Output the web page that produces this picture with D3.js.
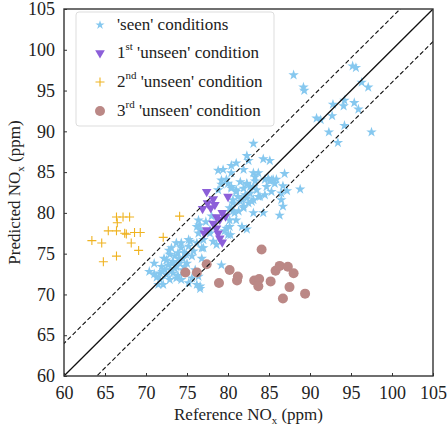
<!DOCTYPE html>
<html><head><meta charset="utf-8">
<script src="https://cdn.jsdelivr.net/npm/d3@7"></script>
<style>body{margin:0;background:#fff}svg{display:block}text{font-family:"Liberation Serif","Times New Roman",serif;fill:#222}</style>
</head><body><svg id="c" width="447" height="430"></svg>
<script>
const xTicks=[60,65,70,75,80,85,90,95,100,105];
const yTicks=[60,65,70,75,80,85,90,95,100,105];
const legendLabels=[["'seen' conditions","",""],["1","st"," 'unseen' condition"],["2","nd"," 'unseen' condition"],["3","rd"," 'unseen' condition"]];
const seenX=[88.0,89.2,89.3,95.2,95.6,96.3,97.1,92.8,94.2,94.1,95.4,95.9,92.7,90.8,91.3,94.2,92.3,93.4,97.5,
83.1,82.3,82.5,84.3,85.1,78.8,79.4,80.4,81.0,80.4,81.9,83.1,83.7,83.3,84.9,85.3,85.9,86.9,85.7,86.7,87.2,88.8,81.5,82.3,82.7,81.9,81.0,80.4,79.2,80.0,83.5,83.7,84.5,85.3,86.5,86.5,86.7,86.3,82.9,82.3,81.5,80.6,81.9,81.3,80.6,83.1,84.3,80.2,79.8,80.2,81.0,81.7,80.0,77.0,78.6,
78.8,79.2,79.8,80.4,81.0,81.2,81.7,80.6,80.2,80.8,81.9,82.5,82.7,83.1,83.3,83.9,83.1,82.3,82.1,84.5,84.7,85.1,85.5,82.3,80.3,76.5,79.2,76.4,76.2,77.8,79.6,78.0,
70.4,71.0,71.3,71.5,71.7,72.1,71.9,72.2,72.5,72.7,72.9,73.0,73.3,73.5,73.7,73.9,74.1,74.3,74.3,74.5,74.5,74.7,75.0,75.2,75.4,75.6,73.3,72.5,73.7,74.3,75.2,75.6,76.0,76.4,76.2,76.6,76.6,73.1,73.7,76.2,76.8,76.8,74.7,71.7,72.9,75.2,76.4,77.0,76.6,77.3,77.8,78.2,
72.3,73.5,72.8,74.0,71.0,73.9,75.8,72.0,73.2,74.9];
const seenY=[96.9,95.4,95.0,98.0,97.8,96.0,95.4,93.3,93.8,93.1,93.5,92.7,91.9,91.6,91.4,90.7,89.9,88.6,89.9,
88.5,87.0,86.4,86.6,86.4,85.2,85.3,85.8,86.1,84.9,85.3,84.9,84.9,84.4,84.2,84.0,84.1,84.8,83.6,83.3,82.7,82.9,83.8,83.6,83.2,83.0,82.6,83.0,84.0,83.6,82.8,82.0,82.2,82.6,82.4,81.6,80.8,79.7,81.4,81.8,81.4,81.6,80.6,80.2,80.2,80.0,80.0,79.1,78.1,78.3,79.1,78.3,77.3,75.7,76.1,
82.8,83.5,84.1,83.2,82.8,82.0,81.6,81.2,80.6,80.0,80.8,81.2,82.4,83.2,83.9,82.0,81.6,83.5,82.2,84.1,83.2,83.9,84.1,78.0,77.3,78.5,73.6,79.1,78.3,77.5,77.8,79.6,
72.8,73.8,72.1,71.2,71.8,71.2,73.4,74.4,74.2,73.6,74.9,73.0,74.0,74.7,73.4,75.1,73.8,75.7,76.3,74.4,73.0,75.1,73.8,75.9,76.5,74.7,72.6,72.4,72.0,71.8,71.4,72.0,73.0,72.2,71.2,71.0,70.7,75.7,76.3,76.3,75.7,74.4,73.4,72.6,71.8,76.7,77.5,76.7,77.9,78.9,77.9,76.5,
73.0,73.2,75.4,74.4,72.5,72.3,75.3,72.8,73.8,74.9];
const unseen1X=[77.4,80.0,76.9,77.5,77.9,78.2,78.4,78.6,79.0,79.3,79.7,77.4,77.1,78.8,79.0,79.3,78.6,78.2];
const unseen1Y=[82.6,82.0,80.5,81.2,80.6,81.7,81.0,79.5,79.2,80.0,79.6,77.9,77.5,77.5,76.9,76.4,78.1,78.7];
const unseen2X=[63.4,64.6,64.8,65.4,66.4,66.5,66.4,67.2,68.0,67.4,67.6,68.2,68.6,69.3,69.1,66.4,72.1,74.1];
const unseen2Y=[76.6,76.3,74.0,77.8,79.5,78.8,77.8,79.5,79.5,77.5,77.4,76.3,77.6,77.6,75.4,74.7,77.0,79.6];
const unseen3X=[74.8,76.2,77.4,78.9,80.2,81.2,81.1,83.2,83.8,83.7,84.1,85.2,85.8,86.3,87.3,88.0,87.5,86.7,89.4];
const unseen3Y=[72.7,72.7,73.7,71.4,73.0,72.2,71.7,71.7,71.9,71.0,75.5,71.6,72.9,73.5,73.4,72.6,70.9,69.5,70.1];
const bandOffsets=[-4,0,4];

const colSeen="#86c8ef",colU1="#8c5fd9",colU2="#efb321",colU3="#bb8886";
const svg=d3.select("#c");
const L=64,R=433,T=9,B=376;
const x=d3.scaleLinear().domain([60,105]).range([L,R]);
const y=d3.scaleLinear().domain([60,105]).range([B,T]);
svg.append("defs").append("clipPath").attr("id","pc").append("rect").attr("x",L).attr("y",T).attr("width",R-L).attr("height",B-T);

const star=d3.symbol().type(d3.symbolStar).size(34);
const tri=d3.symbol().type(d3.symbolTriangle).size(40);
const plusPath="M-4.5,0H4.5M0,-4.5V4.5";

const g=svg.append("g").attr("clip-path","url(#pc)");
g.selectAll(".s").data(seenX.map((v,i)=>[v,seenY[i]])).join("path")
 .attr("d",star).attr("fill",colSeen).attr("transform",d=>`translate(${x(d[0])},${y(d[1])})`);
g.selectAll(".t").data(unseen1X.map((v,i)=>[v,unseen1Y[i]])).join("path")
 .attr("d",tri).attr("fill",colU1).attr("transform",d=>`translate(${x(d[0])},${y(d[1])}) rotate(180)`);
g.selectAll(".p").data(unseen2X.map((v,i)=>[v,unseen2Y[i]])).join("path")
 .attr("d",plusPath).attr("stroke",colU2).attr("stroke-width",1.1).attr("fill","none").attr("transform",d=>`translate(${x(d[0])},${y(d[1])})`);
g.selectAll(".o").data(unseen3X.map((v,i)=>[v,unseen3Y[i]])).join("circle")
 .attr("cx",d=>x(d[0])).attr("cy",d=>y(d[1])).attr("r",5).attr("fill",colU3);

g.selectAll(".ln").data(bandOffsets).join("line")
 .attr("x1",x(55)).attr("y1",d=>y(55+d)).attr("x2",x(110)).attr("y2",d=>y(110+d))
 .attr("stroke","#111").attr("stroke-width",d=>d===0?1.3:1.1).attr("stroke-dasharray",d=>d===0?null:"4.5,2.5");

// axes
const xa=svg.append("g").attr("transform",`translate(0,${B})`).call(d3.axisBottom(x).tickValues(xTicks).tickSize(-3).tickPadding(10));
const ya=svg.append("g").attr("transform",`translate(${L},0)`).call(d3.axisLeft(y).tickValues(yTicks).tickSize(-3).tickPadding(9));
[xa,ya].forEach(a=>{a.select(".domain").remove();a.selectAll("line").attr("stroke","#333");a.selectAll("text").attr("font-family","Liberation Serif").attr("font-size",18).attr("fill","#222");});
svg.append("rect").attr("x",L).attr("y",T).attr("width",R-L).attr("height",B-T).attr("fill","none").attr("stroke","#333").attr("stroke-width",1.4);

// titles
const xt=svg.append("text").attr("x",(L+R)/2).attr("y",420).attr("text-anchor","middle").attr("font-size",17);
xt.append("tspan").text("Reference NO");
xt.append("tspan").text("x").attr("font-size",11).attr("dy",4);
xt.append("tspan").text(" (ppm)").attr("dy",-4);
const yt=svg.append("text").attr("transform",`translate(20,${(T+B)/2}) rotate(-90)`).attr("text-anchor","middle").attr("font-size",17);
yt.append("tspan").text("Predicted NO");
yt.append("tspan").text("x").attr("font-size",11).attr("dy",4);
yt.append("tspan").text(" (ppm)").attr("dy",-4);

// legend
svg.append("rect").attr("x",76).attr("y",12).attr("width",198).attr("height",114).attr("rx",3).attr("fill","#fff").attr("stroke","#ddd").attr("stroke-width",1);
const rowsY=[25,53,82,111];
const lg=svg.append("g");
lg.append("path").attr("d",d3.symbol().type(d3.symbolStar).size(26)).attr("fill",colSeen).attr("transform",`translate(100,${rowsY[0]})`);
lg.append("path").attr("d",tri).attr("fill",colU1).attr("transform",`translate(100,${rowsY[1]}) rotate(180)`);
lg.append("path").attr("d",plusPath).attr("stroke",colU2).attr("stroke-width",1.1).attr("transform",`translate(100,${rowsY[2]})`);
lg.append("circle").attr("cx",100).attr("cy",rowsY[3]).attr("r",5).attr("fill",colU3);
legendLabels.forEach((l,i)=>{
  const t=lg.append("text").attr("x",117).attr("y",rowsY[i]+5).attr("font-size",17);
  t.append("tspan").text(l[0]);
  if(l[1]){t.append("tspan").text(l[1]).attr("font-size",11).attr("dy",-8);t.append("tspan").text(l[2]).attr("dy",8);}
});
</script></body></html>
